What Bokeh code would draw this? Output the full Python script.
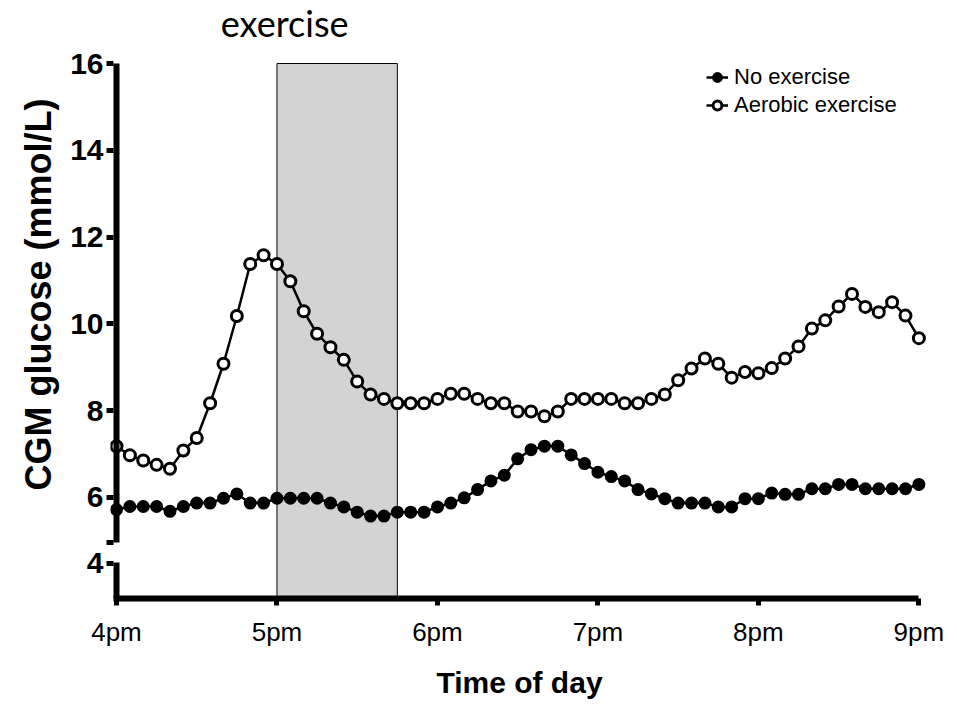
from bokeh.core.properties import value
from bokeh.embed import file_html
from bokeh.models import FixedTicker, Legend, LegendItem, LinearAxis, Range1d, Title
from bokeh.plotting import figure
from bokeh.resources import INLINE

# CGM readings every 5 minutes from 4pm to 9pm (minutes after 4pm)
minutes = list(range(0, 301, 5))

no_exercise = [
    5.72, 5.79, 5.79, 5.79, 5.68, 5.79, 5.87, 5.87, 5.98, 6.08,
    5.87, 5.87, 5.98, 5.98, 5.98, 5.98, 5.87, 5.78, 5.66, 5.57,
    5.57, 5.66, 5.66, 5.66, 5.78, 5.87, 5.99, 6.18, 6.38, 6.51,
    6.89, 7.10, 7.18, 7.18, 6.98, 6.78, 6.58, 6.48, 6.38, 6.18,
    6.08, 5.97, 5.87, 5.87, 5.87, 5.78, 5.78, 5.97, 5.97, 6.10,
    6.07, 6.07, 6.20, 6.20, 6.30, 6.30, 6.20, 6.20, 6.20, 6.20,
    6.30,
]

aerobic_exercise = [
    7.18, 6.97, 6.85, 6.75, 6.66, 7.08, 7.37, 8.17, 9.08, 10.18,
    11.38, 11.58, 11.38, 10.98, 10.29, 9.77, 9.46, 9.17, 8.67, 8.37,
    8.27, 8.17, 8.17, 8.17, 8.27, 8.39, 8.39, 8.27, 8.17, 8.17,
    7.98, 7.98, 7.87, 7.98, 8.27, 8.27, 8.27, 8.27, 8.17, 8.17,
    8.27, 8.37, 8.70, 8.97, 9.20, 9.08, 8.76, 8.89, 8.86, 8.98,
    9.20, 9.48, 9.89, 10.08, 10.40, 10.69, 10.39, 10.27, 10.50, 10.19,
    9.67,
]

# exercise session, in hours of the day
exercise_window = [17.0, 17.75]
exercise_heading = "exercise"

x_ticks = [16, 17, 18, 19, 20, 21]
x_tick_labels = ["4pm", "5pm", "6pm", "7pm", "8pm", "9pm"]

# broken y axis: the "4" tick sits below the break, the unlabeled tick caps
# the upper part of the axis
y_ticks = [4.48, 4.963, 6, 8, 10, 12, 14, 16]
y_tick_labels = ["4", "", "6", "8", "10", "12", "14", "16"]
y_upper_span = (4.963, 16)
y_lower_span = (3.67, 4.5)

hours = [16 + m / 60 for m in minutes]

FONT = "Liberation Sans"
X0 = 16  # where the y axis line stands

# the frame reaches the top of the page so the heading can sit above the axis,
# and starts a few pixels left of 4pm so the y axis line is drawn whole
p = figure(
    width=957, height=727,
    output_backend="svg", toolbar_location=None,
    x_range=Range1d(15.9626, 21.06), y_range=Range1d(3.67, 17.452),
    min_border_left=110, min_border_right=29,
    min_border_top=0, min_border_bottom=129,
)
p.outline_line_color = None
p.xgrid.visible = False
p.ygrid.visible = False
p.background_fill_color = "white"
p.border_fill_color = "white"

# shaded exercise period
p.quad(left=[exercise_window[0]], right=[exercise_window[1]],
       bottom=[p.y_range.start], top=[y_upper_span[1]],
       fill_color="#d3d3d3", line_color="black", line_width=1)

# heading above the exercise period
p.text(x=[16.65], y=[16.93], text=[exercise_heading],
       text_font=value("Lato"), text_font_size="36px", text_color="black",
       text_align="left", text_baseline="alphabetic")

l_no = p.line(hours, no_exercise, line_color="black", line_width=2.5)
s_no = p.scatter(hours, no_exercise, marker="circle", size=11,
                 fill_color="black", line_color="black", line_width=2)
l_ae = p.line(hours, aerobic_exercise, line_color="black", line_width=2.5)
s_ae = p.scatter(hours, aerobic_exercise, marker="circle", size=11,
                 fill_color="white", line_color="black", line_width=3)

# x axis
xa = p.xaxis[0]
xa.ticker = FixedTicker(ticks=x_ticks)
xa.major_label_overrides = dict(zip(x_ticks, x_tick_labels))
xa.bounds = (15.981, 21)
xa.axis_line_width = 6
xa.axis_line_color = "black"
xa.major_tick_line_width = 5
xa.major_tick_line_color = "black"
xa.major_tick_in = 0
xa.major_tick_out = 7
xa.minor_tick_line_color = None
xa.major_label_text_font = FONT
xa.major_label_text_color = "black"
xa.major_label_text_font_size = "26px"
xa.major_label_standoff = 11
xa.axis_label = "Time of day"
xa.axis_label_text_font = FONT
xa.axis_label_text_font_style = "bold"
xa.axis_label_text_font_size = "30px"
xa.axis_label_text_color = "black"
xa.axis_label_standoff = 16

# y axis: ticks and labels; its line is drawn in two pieces below
ya = p.yaxis[0]
ya.axis_line_color = None
ya.ticker = FixedTicker(ticks=y_ticks)
ya.major_label_overrides = dict(zip(y_ticks, y_tick_labels))
ya.bounds = (p.y_range.start, y_upper_span[1])
ya.major_tick_line_width = 5
ya.major_tick_line_color = "black"
ya.major_tick_in = 3
ya.major_tick_out = 4
ya.minor_tick_line_color = None
ya.major_label_text_font = FONT
ya.major_label_text_color = "black"
ya.major_label_text_font_size = "30px"
ya.major_label_text_font_style = "bold"
ya.major_label_standoff = 3

# the two pieces of the broken y axis line, standing at 4pm
for span in (y_upper_span, y_lower_span):
    seg = LinearAxis(fixed_location=X0, bounds=span,
                     ticker=FixedTicker(ticks=[]),
                     axis_line_width=6, axis_line_color="black",
                     major_tick_line_color=None, minor_tick_line_color=None,
                     major_label_text_color=None)
    p.add_layout(seg, "left")

# y axis title, beside the upper part of the axis
p.add_layout(Title(text="CGM glucose (mmol/L)", align="left", offset=108,
                   text_font=FONT, text_font_style="bold", text_font_size="36px",
                   text_color="black", standoff=17), "left")

legend = Legend(
    items=[LegendItem(label="No exercise", renderers=[l_no, s_no]),
           LegendItem(label="Aerobic exercise", renderers=[l_ae, s_ae])],
    location=(596, 480),
    border_line_color=None, background_fill_alpha=0,
    padding=0, margin=0, spacing=2,
    glyph_width=22, glyph_height=22, label_height=22, label_standoff=6,
    label_text_font=FONT, label_text_font_size="22px", label_text_color="black",
)
p.add_layout(legend)

open("out.html", "w").write(file_html(p, INLINE))
